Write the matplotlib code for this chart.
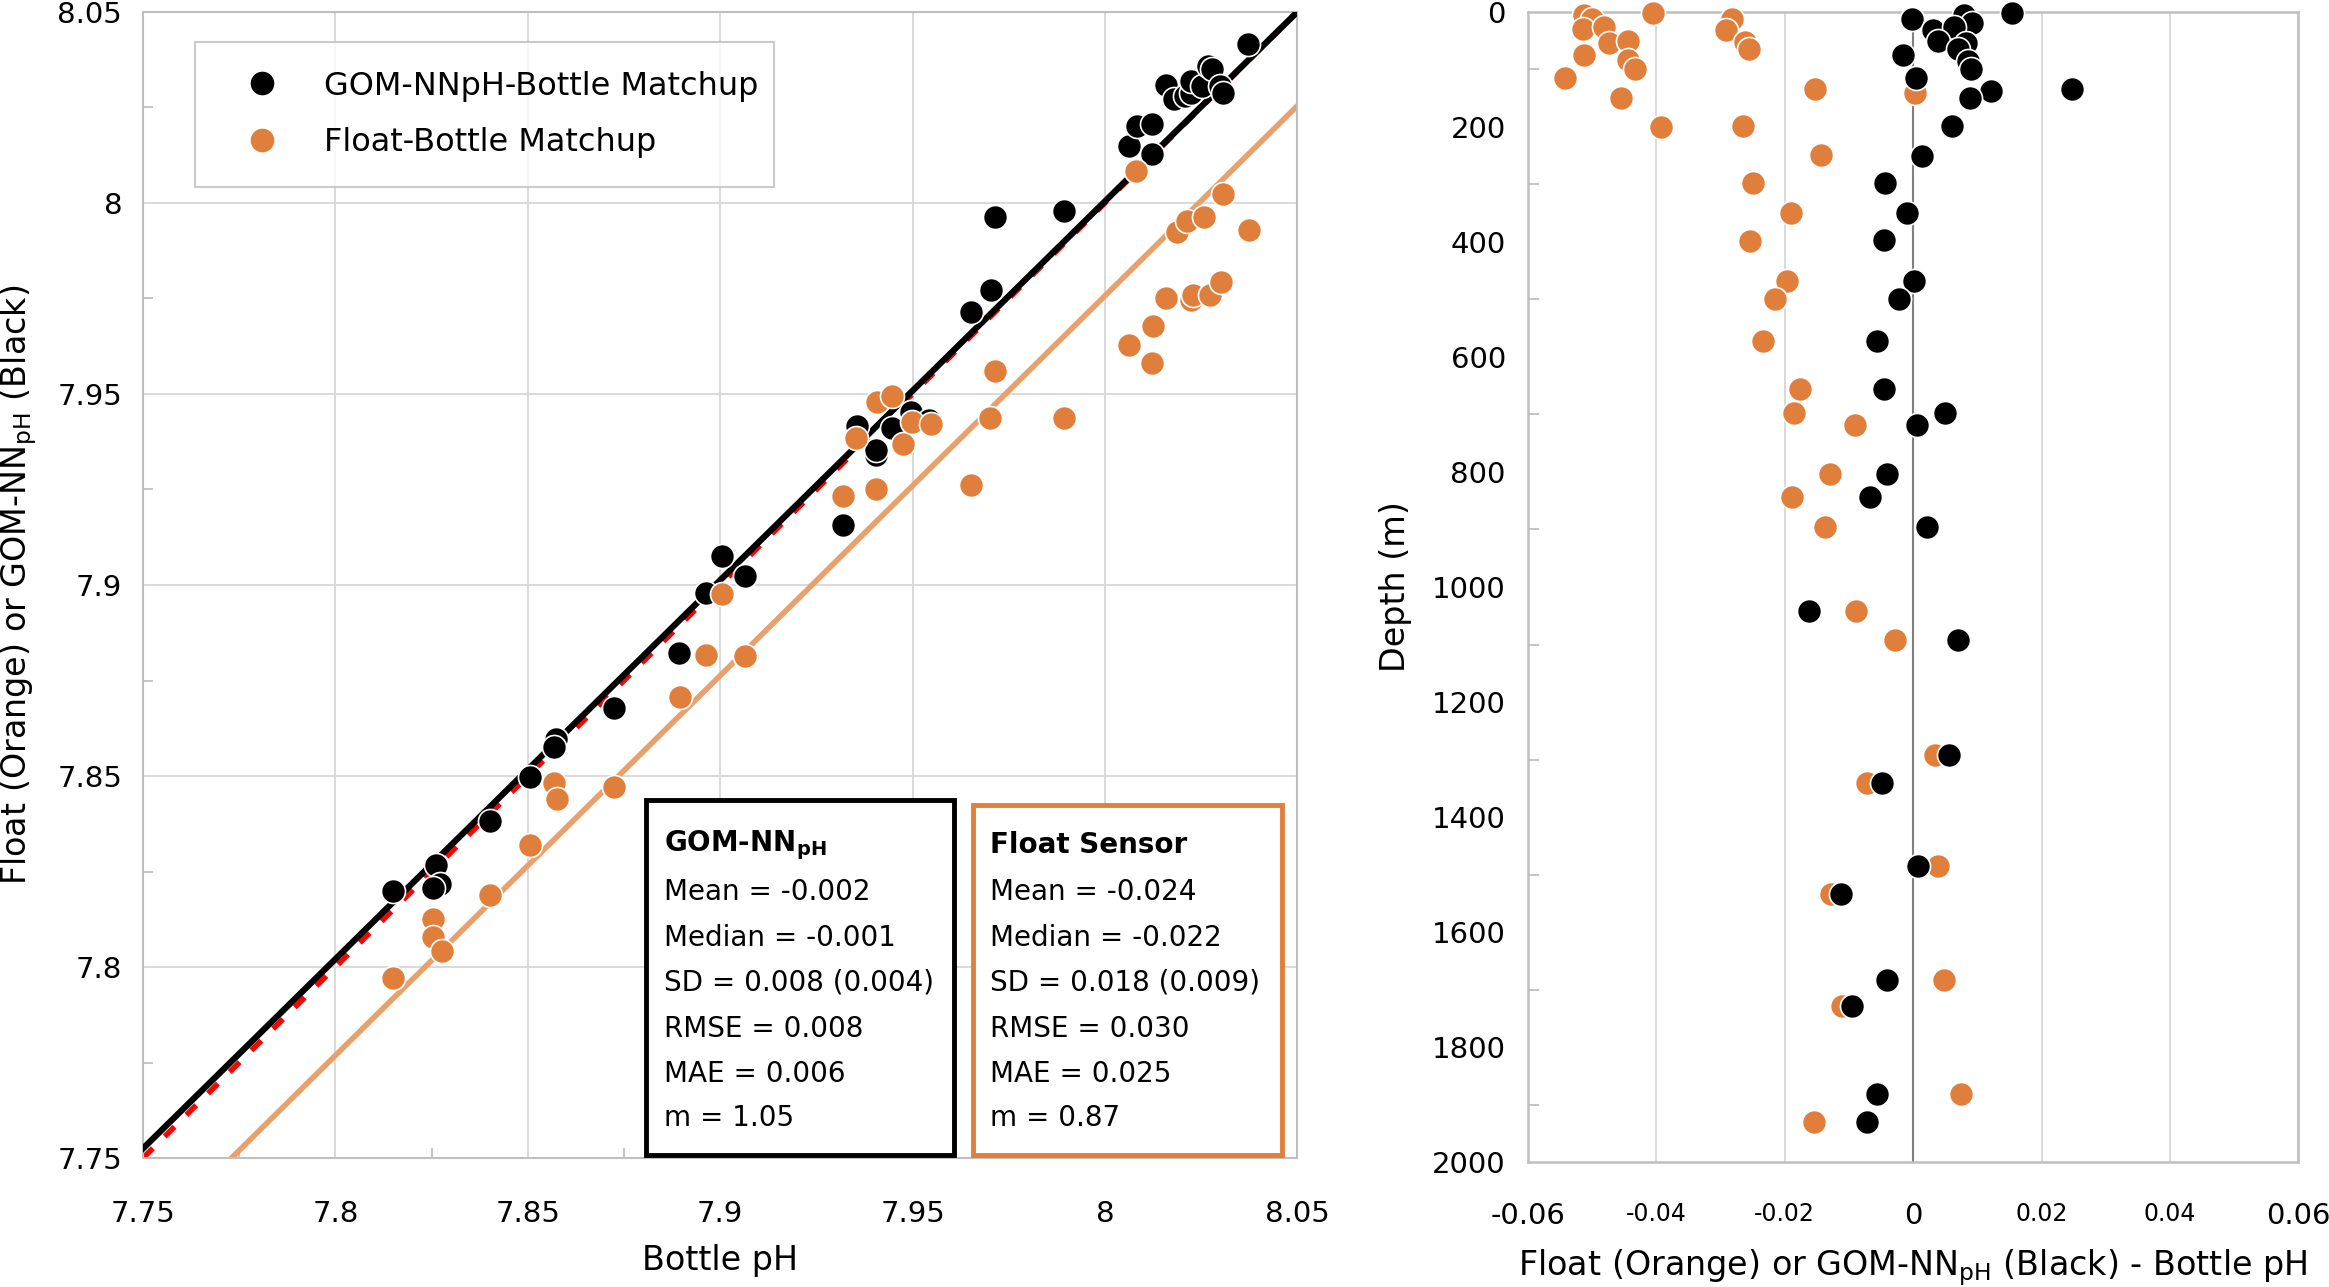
import matplotlib
matplotlib.use("Agg")
import matplotlib.pyplot as plt
from matplotlib.patches import Rectangle
from matplotlib.lines import Line2D

plt.rcParams['font.family'] = ['DejaVu Sans']
plt.rcParams['mathtext.fontset'] = 'dejavusans'

# ---- data ----
# left panel: bottle pH vs GOM-NNpH
nn_bottle = [7.815, 7.8262, 7.8271, 7.8254, 7.8403, 7.8507, 7.8573, 7.8567, 7.8724, 7.8892,
             7.8962, 7.9005, 7.9065, 7.932, 7.9355, 7.9404, 7.9404, 7.9447, 7.9496, 7.9544,
             7.9653, 7.9703, 7.9715, 7.9893, 8.0063, 8.0084, 8.0122, 8.0122, 8.016, 8.018,
             8.0208, 8.0225, 8.0225, 8.0252, 8.0268, 8.0279, 8.030, 8.0306, 8.0373]
nn_ph = [7.820, 7.8267, 7.8217, 7.8208, 7.8383, 7.8498, 7.8598, 7.8576, 7.8679, 7.8823,
         7.898, 7.9076, 7.9024, 7.9156, 7.9415, 7.9341, 7.9354, 7.941, 7.9454, 7.9432,
         7.9715, 7.9771, 7.9963, 7.998, 8.015, 8.0202, 8.0206, 8.0128, 8.031, 8.0271,
         8.028, 8.0289, 8.032, 8.0306, 8.0358, 8.035, 8.0306, 8.0289, 8.0415]

# left panel: bottle pH vs float pH
float_bottle = [7.815, 7.8254, 7.8254, 7.8277, 7.8403, 7.8507, 7.8567, 7.8577, 7.8724, 7.8895,
                7.8962, 7.9005, 7.9065, 7.932, 7.9353, 7.9405, 7.9407, 7.9447, 7.9476, 7.9498,
                7.9547, 7.9653, 7.9701, 7.9715, 7.9894, 8.0063, 8.0122, 8.0124, 8.016, 8.0082,
                8.0187, 8.0214, 8.0257, 8.0225, 8.0230, 8.0273, 8.0303, 8.0306, 8.0374]
float_ph = [7.797, 7.8126, 7.8078, 7.8041, 7.8188, 7.832, 7.8481, 7.8439, 7.8472, 7.8706,
            7.8817, 7.8976, 7.8815, 7.9232, 7.9386, 7.925, 7.948, 7.9496, 7.937, 7.9426,
            7.9422, 7.9261, 7.9437, 7.956, 7.9437, 7.9628, 7.958, 7.9678, 7.9752, 8.0084,
            7.9923, 7.9954, 7.9963, 7.9745, 7.9758, 7.9758, 7.9793, 8.0023, 7.9928]

# regression / 1:1 lines
one_to_one = [7.75, 8.05]
nn_fit_x = [7.75, 8.05]
nn_fit_y = [7.7525, 8.05]
float_fit_x = [7.773, 8.05]
float_fit_y = [7.75, 8.0254]

# right panel: differences vs depth
float_diff = [-0.0513, -0.0501, -0.0514, -0.0481, -0.0474, -0.0444, -0.0513, -0.0445, -0.0434, -0.0542,
              -0.0455, -0.0405, -0.0283, -0.0292, -0.0262, -0.0256, -0.0393, -0.0265, -0.0153, 0.0003,
              -0.0143, -0.0249, -0.019, -0.0254, -0.0196, -0.0216, -0.0234, -0.0176, -0.0186, -0.009,
              -0.013, -0.0189, -0.0138, -0.0089, -0.0028, 0.0034, -0.0072, 0.0039, -0.0128, 0.0048,
              -0.0111, 0.0074, -0.0155]
float_depth = [5, 13, 29, 26, 54, 51, 74, 83, 99, 115,
               150, 2, 12, 32, 53, 65, 200, 199, 134, 141,
               249, 298, 349, 398, 467, 499, 573, 656, 697, 719,
               803, 844, 895, 1042, 1093, 1292, 1341, 1485, 1534, 1683,
               1729, 1881, 1930]
nn_diff = [-0.0002, 0.0079, 0.0154, 0.0091, 0.0031, 0.0064, 0.0039, 0.0082, 0.007, -0.0016,
           0.0086, 0.009, 0.0004, 0.0248, 0.0121, 0.0088, 0.0061, 0.0014, -0.0044, -0.0009,
           -0.0045, 0.0002, -0.0022, -0.0057, -0.0045, 0.0049, 0.0006, -0.0041, -0.0068, 0.0022,
           -0.0163, 0.007, 0.0056, -0.0048, 0.0008, -0.0113, -0.0041, -0.0096, -0.0056, -0.0072]
nn_depth = [13, 5, 2, 19, 32, 26, 50, 54, 65, 74,
            86, 99, 115, 134, 138, 150, 199, 250, 298, 349,
            397, 467, 499, 573, 656, 697, 719, 803, 844, 895,
            1042, 1092, 1292, 1341, 1485, 1534, 1683, 1729, 1881, 1930]

ph_ticks = [7.75, 7.8, 7.85, 7.9, 7.95, 8.0, 8.05]
ph_labels = ["7.75", "7.8", "7.85", "7.9", "7.95", "8", "8.05"]
diff_ticks = [-0.06, -0.04, -0.02, 0, 0.02, 0.04, 0.06]
diff_labels = ["-0.06", "-0.04", "-0.02", "0", "0.02", "0.04", "0.06"]
depth_ticks = list(range(0, 2001, 200))

nn_stats = [r"GOM-NN$_{\mathbf{pH}}$", "Mean = -0.002", "Median = -0.001", "SD = 0.008 (0.004)",
            "RMSE = 0.008", "MAE = 0.006", "m = 1.05"]
float_stats = ["Float Sensor", "Mean = -0.024", "Median = -0.022", "SD = 0.018 (0.009)",
               "RMSE = 0.030", "MAE = 0.025", "m = 0.87"]

ORANGE = '#E07E3C'
GRID = '#D9D9D9'
SPINE = '#BFBFBF'
DOT = 300

fig = plt.figure(figsize=(23.29, 12.87), dpi=100)
ax1 = fig.add_axes([0.0614, 0.1002, 0.4956, 0.8905])
ax2 = fig.add_axes([0.6561, 0.0971, 0.3307, 0.8936])

# ---------- left panel ----------
ax1.plot(one_to_one, one_to_one, color='red', lw=4, ls=(0, (2.5, 3)), zorder=2)
ax1.plot(nn_fit_x, nn_fit_y, color='black', lw=4.5, zorder=3)
ax1.plot(float_fit_x, float_fit_y, color='#E8A06C', lw=4, zorder=2)
ax1.scatter(nn_bottle, nn_ph, s=DOT, color='black', edgecolors='white', linewidths=1.2, zorder=4)
ax1.scatter(float_bottle, float_ph, s=DOT, color=ORANGE, edgecolors='white', linewidths=1.2, zorder=5)

ax1.set_xlim(7.75, 8.05)
ax1.set_ylim(7.75, 8.05)
ax1.set_xticks(ph_ticks)
ax1.set_xticklabels(ph_labels)
ax1.set_yticks(ph_ticks)
ax1.set_yticklabels(ph_labels)
ax1.set_xticks([7.775, 7.825, 7.875, 7.925, 7.975, 8.025], minor=True)
ax1.set_yticks([7.775, 7.825, 7.875, 7.925, 7.975, 8.025], minor=True)
ax1.tick_params(which='major', length=0, labelsize=21)
ax1.tick_params(axis='x', which='major', pad=30)
ax1.tick_params(axis='y', which='major', pad=15)
ax1.tick_params(which='minor', direction='in', length=7, width=1.3, color=SPINE)
ax1.grid(True, color=GRID, lw=1.4)
ax1.set_axisbelow(True)
for sp in ax1.spines.values():
    sp.set_color(SPINE)
    sp.set_linewidth(1.5)
ax1.set_xlabel("Bottle pH", fontsize=24, labelpad=12)
ax1.set_ylabel(r"Float (Orange) or GOM-NN$_{\mathrm{pH}}$ (Black)", fontsize=24, labelpad=13)

handles = [Line2D([], [], ls='none', marker='o', ms=16, mfc='black', mec='black'),
           Line2D([], [], ls='none', marker='o', ms=16, mfc=ORANGE, mec=ORANGE)]
leg = ax1.legend(handles, ["GOM-NNpH-Bottle Matchup", "Float-Bottle Matchup"],
                 loc='upper left', bbox_to_anchor=(0.045, 0.850, 0.502, 0.124), mode='expand',
                 borderaxespad=0, fontsize=23, frameon=True, fancybox=False,
                 borderpad=0.9, labelspacing=0.8, handlelength=2.4, handletextpad=0.75)
leg.get_frame().set_edgecolor(SPINE)
leg.get_frame().set_linewidth(1.5)

# stats boxes
for x0, x1, top, tx, color, lines in [(0.436, 0.703, 0.312, 0.451, 'black', nn_stats),
                                      (0.719, 0.987, 0.308, 0.734, ORANGE, float_stats)]:
    ax1.add_patch(Rectangle((x0, 0.003), x1 - x0, top - 0.003, transform=ax1.transAxes,
                            facecolor='white', edgecolor=color, lw=3.5, zorder=6))
    line_y = [0.273, 0.232, 0.192, 0.153, 0.113, 0.073, 0.035]
    for i, (txt, ty) in enumerate(zip(lines, line_y)):
        ax1.text(tx, ty, txt, transform=ax1.transAxes, fontsize=20, va='center', ha='left',
                 fontweight='bold' if i == 0 else 'normal', zorder=7)

# ---------- right panel ----------
ax2.scatter(float_diff, float_depth, s=DOT, color=ORANGE, edgecolors='white', linewidths=1.2,
            zorder=4, clip_on=False)
ax2.scatter(nn_diff, nn_depth, s=DOT, color='black', edgecolors='white', linewidths=1.2,
            zorder=5, clip_on=False)
ax2.axvline(0, color='#808080', lw=1.5, zorder=2)
ax2.set_xlim(-0.06, 0.06)
ax2.set_ylim(2000, 0)
ax2.set_xticks(diff_ticks)
ax2.set_xticklabels(diff_labels)
ax2.set_yticks(depth_ticks)
ax2.set_yticks(list(range(100, 2000, 200)), minor=True)
ax2.tick_params(which='major', length=0, labelsize=21)
ax2.tick_params(axis='x', which='major', pad=29)
ax2.tick_params(axis='y', which='major', pad=16)
ax2.tick_params(axis='y', which='minor', direction='in', length=8, width=1.3, color=SPINE)
for lab in ax2.get_xticklabels():
    if lab.get_text() in ("-0.04", "-0.02", "0.02", "0.04"):
        lab.set_fontsize(17)
ax2.grid(True, axis='x', color=GRID, lw=1.4)
ax2.set_axisbelow(True)
for sp in ax2.spines.values():
    sp.set_color(SPINE)
    sp.set_linewidth(1.8)
ax2.set_xlabel(r"Float (Orange) or GOM-NN$_{\mathrm{pH}}$ (Black) - Bottle pH", fontsize=24, labelpad=12)
ax2.set_ylabel("Depth (m)", fontsize=24, labelpad=14)

fig.savefig("out.png", dpi=100)
